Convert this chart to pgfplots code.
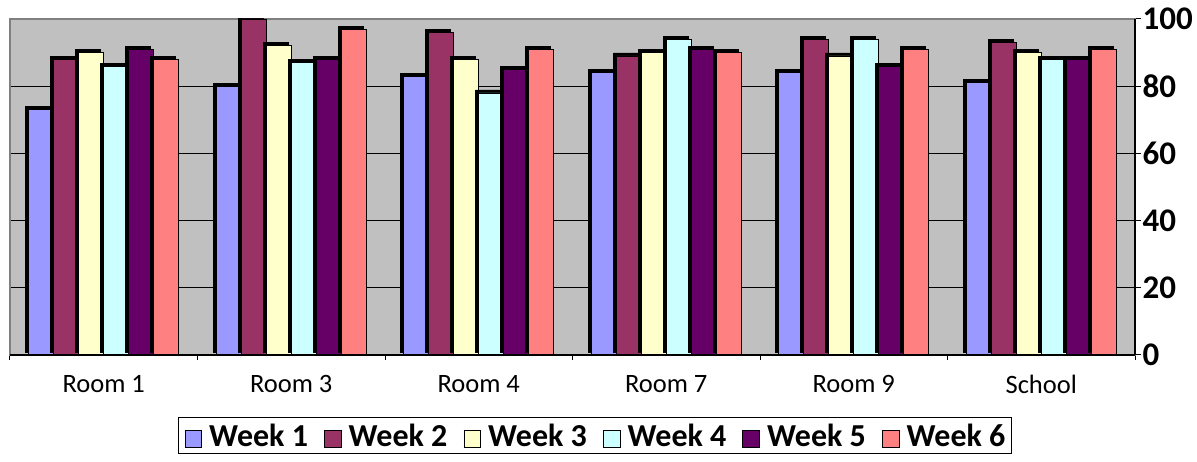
\documentclass[border=0pt]{standalone}
\usepackage{fontspec}
\setmainfont{Carlito}
\usepackage{pgfplots}
\pgfplotsset{compat=1.18}
\definecolor{w1}{HTML}{9999FF}
\definecolor{w2}{HTML}{993366}
\definecolor{w3}{HTML}{FFFFCC}
\definecolor{w4}{HTML}{CCFFFF}
\definecolor{w5}{HTML}{660066}
\definecolor{w6}{HTML}{FF8080}
\definecolor{bg}{HTML}{C0C0C0}
\definecolor{frm}{HTML}{808080}
\setlength\fboxsep{0pt}
\setlength\fboxrule{0.8pt}
\newcommand\sq[1]{\raisebox{-1pt}{\fcolorbox{black}{#1}{\rule{0pt}{16pt}\rule{16pt}{0pt}}}\hspace{7pt}}
\pgfplotstableread{
x w1 w2 w3 w4 w5 w6
0 73 88 90 86 91 88
1 80 100 92 87 88 97
2 83 96 88 78 85 91
3 84 89 90 94 91 90
4 84 94 89 94 86 91
5 81 93 90 88 88 91
}\data
\pgfplotsset{
  bars/.style={forget plot, fill=#1, draw=black, line width=0.8pt},
  shad/.style={forget plot, fill=black, draw=black, line width=0.8pt, xshift=-3pt, yshift=3pt},
  noimg/.style={/pgfplots/legend image code/.code={}}
}
\begin{document}
\begin{tikzpicture}
\begin{axis}[name=ax, scale only axis, width=1125pt, height=336pt,
  ymin=0, ymax=100, xmin=-0.5, xmax=5.5,
  axis background/.style={fill=bg},
  axis line style={frm, line width=1.2pt},
  ybar=0pt, bar width=0.1333,
  ytick={0,20,...,100},
  ytick pos=right, yticklabel pos=right,
  tick align=outside,
  major tick length=6pt, minor tick length=5pt,
  every tick/.style={black, line width=1pt},
  ymajorgrids, grid style={black, line width=0.9pt},
  /pgf/number format/assume math mode=true,
  yticklabel style={font=\bfseries\fontsize{33}{33}\selectfont, anchor=west, xshift=-2pt},
  xtick={0,1,2,3,4,5},
  xticklabels={Room 1, Room 3, Room 4, Room 7, Room 9, School},
  xtick pos=bottom,
  major x tick style={draw=none},
  minor xtick={-0.5,0.5,1.5,2.5,3.5,4.5,5.5},
  xticklabel style={font=\fontsize{26.5}{26.5}\selectfont, yshift=-11pt},
  legend style={at={(0.52,-0.185)}, anchor=north, draw=black, line width=0.8pt,
    font=\bfseries\fontsize{32}{32}\selectfont, inner sep=4pt,
    /tikz/every odd column/.style={column sep=0pt},
    /tikz/every even column/.style={column sep=12pt}},
  legend columns=6,
]
\addplot[shad, bar shift=-0.3333] table[y=w1] {\data};
\addplot[bars=w1, bar shift=-0.3333] table[y=w1] {\data};
\addplot[shad, bar shift=-0.2] table[y=w2] {\data};
\addplot[bars=w2, bar shift=-0.2] table[y=w2] {\data};
\addplot[shad, bar shift=-0.0667] table[y=w3] {\data};
\addplot[bars=w3, bar shift=-0.0667] table[y=w3] {\data};
\addplot[shad, bar shift=0.0667] table[y=w4] {\data};
\addplot[bars=w4, bar shift=0.0667] table[y=w4] {\data};
\addplot[shad, bar shift=0.2] table[y=w5] {\data};
\addplot[bars=w5, bar shift=0.2] table[y=w5] {\data};
\addplot[shad, bar shift=0.3333] table[y=w6] {\data};
\addplot[bars=w6, bar shift=0.3333] table[y=w6] {\data};
\addlegendimage{noimg}\addlegendentry{\sq{w1}Week 1}
\addlegendimage{noimg}\addlegendentry{\sq{w2}Week 2}
\addlegendimage{noimg}\addlegendentry{\sq{w3}Week 3}
\addlegendimage{noimg}\addlegendentry{\sq{w4}Week 4}
\addlegendimage{noimg}\addlegendentry{\sq{w5}Week 5}
\addlegendimage{noimg}\addlegendentry{\sq{w6}Week 6}
\end{axis}
\draw[black, line width=1.5pt] (ax.south east) -- (ax.north east);
\draw[black, line width=1.5pt] (ax.south west) -- (ax.south east);
\pgfresetboundingbox
\useasboundingbox ([shift={(-10pt,-107pt)}]ax.south west) rectangle ([shift={(62pt,19pt)}]ax.north east);
\end{tikzpicture}
\end{document}
